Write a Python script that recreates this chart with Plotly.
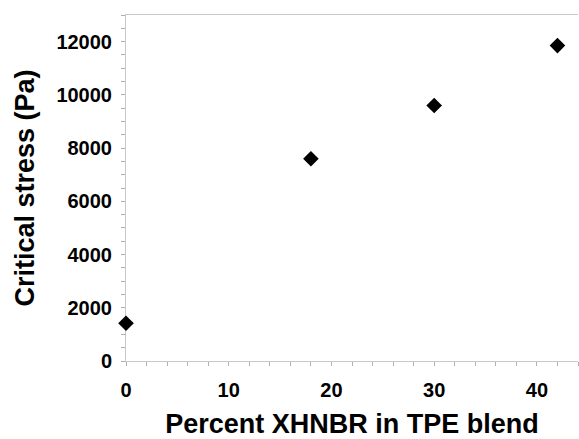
import plotly.graph_objects as go

percent_xhnbr = [0, 18, 30, 42]
critical_stress = [1420, 7600, 9600, 11850]

x_title = "Percent XHNBR in TPE blend"
y_title = "Critical stress (Pa)"

font_family = "Liberation Sans, Arial, sans-serif"

fig = go.Figure()
fig.add_trace(go.Scatter(
    x=percent_xhnbr, y=critical_stress, mode="markers",
    marker=dict(symbol="diamond", size=12, color="black"),
    showlegend=False, cliponaxis=False,
))

axis_common = dict(
    showgrid=False, zeroline=False, automargin=False, layer="below traces",
    showline=True, linecolor="#c8c8c8", linewidth=1,
    ticks="outside", tickcolor="#b0b0b0", ticklen=4,
    tickfont=dict(family=font_family, size=20, color="black", weight="bold"),
    tickformat="d",
)

fig.update_layout(
    width=579, height=439,
    margin=dict(l=126, r=1, t=15, b=78),
    paper_bgcolor="white", plot_bgcolor="white",
    font=dict(family=font_family, color="black"),
    xaxis=dict(
        range=[0, 44], tickmode="linear", tick0=0, dtick=10, mirror=True,
        minor=dict(ticks="outside", dtick=2, ticklen=4, tickcolor="#b0b0b0"),
        ticklabelstandoff=7,
        title=dict(text=f"<b>{x_title}</b>", font=dict(size=27, family=font_family), standoff=22),
        **axis_common,
    ),
    yaxis=dict(
        range=[0, 13000], tickmode="linear", tick0=0, dtick=2000, mirror=False,
        minor=dict(ticks="outside", dtick=500, ticklen=4, tickcolor="#b0b0b0"),
        ticklabelstandoff=5,
        title=dict(text=f"<b>{y_title}</b>", font=dict(size=27, family=font_family), standoff=13),
        **axis_common,
    ),
)

fig.write_html("out.html")
